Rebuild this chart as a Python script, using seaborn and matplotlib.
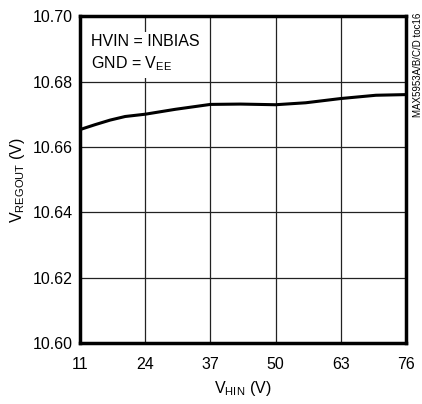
import matplotlib
matplotlib.use("Agg")
import matplotlib.pyplot as plt
import seaborn as sns
import pandas as pd

# data
vhin = [11, 14, 17, 20, 24, 30, 37, 43, 50, 56, 63, 70, 76]
vregout = [10.6653, 10.6668, 10.6682, 10.6693, 10.6700, 10.6715, 10.6730,
           10.6731, 10.6729, 10.6735, 10.6748, 10.6758, 10.6760]
xticks = [11, 24, 37, 50, 63, 76]
yticks = [10.60, 10.62, 10.64, 10.66, 10.68, 10.70]

df = pd.DataFrame({"vhin": vhin, "vregout": vregout})

sns.set_style("white")
plt.rcParams["font.family"] = ["Liberation Sans", "DejaVu Sans"]
plt.rcParams["mathtext.fontset"] = "custom"
plt.rcParams["mathtext.rm"] = "Liberation Sans"
plt.rcParams["text.color"] = "black"
plt.rcParams["axes.labelcolor"] = "black"
plt.rcParams["xtick.color"] = "black"
plt.rcParams["ytick.color"] = "black"

fig = plt.figure(figsize=(4.22, 4.04), dpi=100)
ax = fig.add_axes([0.1896, 0.151, 0.7726, 0.809])

sns.lineplot(data=df, x="vhin", y="vregout", ax=ax, color="black",
             linewidth=2.2, zorder=3)

ax.set_xlim(11, 76)
ax.set_ylim(10.60, 10.70)
ax.set_xticks(xticks)
ax.set_yticks(yticks)
ax.set_xticklabels([str(t) for t in xticks], fontsize=11.5)
ax.set_yticklabels([f"{t:.2f}" for t in yticks], fontsize=11.5)
ax.tick_params(axis="x", length=0, pad=10)
ax.tick_params(axis="y", length=0, pad=5)
ax.grid(True, color="#222222", linewidth=0.9)

for s in ax.spines.values():
    s.set_linewidth(2.5)
    s.set_color("black")
    s.set_visible(True)

ax.set_xlabel("V$_{\\mathregular{HIN}}$ (V)", fontsize=11.5, labelpad=5)
ax.set_ylabel("V$_{\\mathregular{REGOUT}}$ (V)", fontsize=11.5, labelpad=4)

ax.text(0.035, 0.945, "HVIN = INBIAS\nGND = V$_{\\mathregular{EE}}$",
        transform=ax.transAxes, fontsize=11.5, va="top", ha="left",
        linespacing=1.4, zorder=4,
        bbox=dict(facecolor="white", edgecolor="none", pad=3))

fig.text(0.99, 0.968, "MAX5953A/B/C/D toc16", rotation=90, fontsize=7,
         va="top", ha="center")

plt.savefig("out.png", dpi=100)
plt.close()
